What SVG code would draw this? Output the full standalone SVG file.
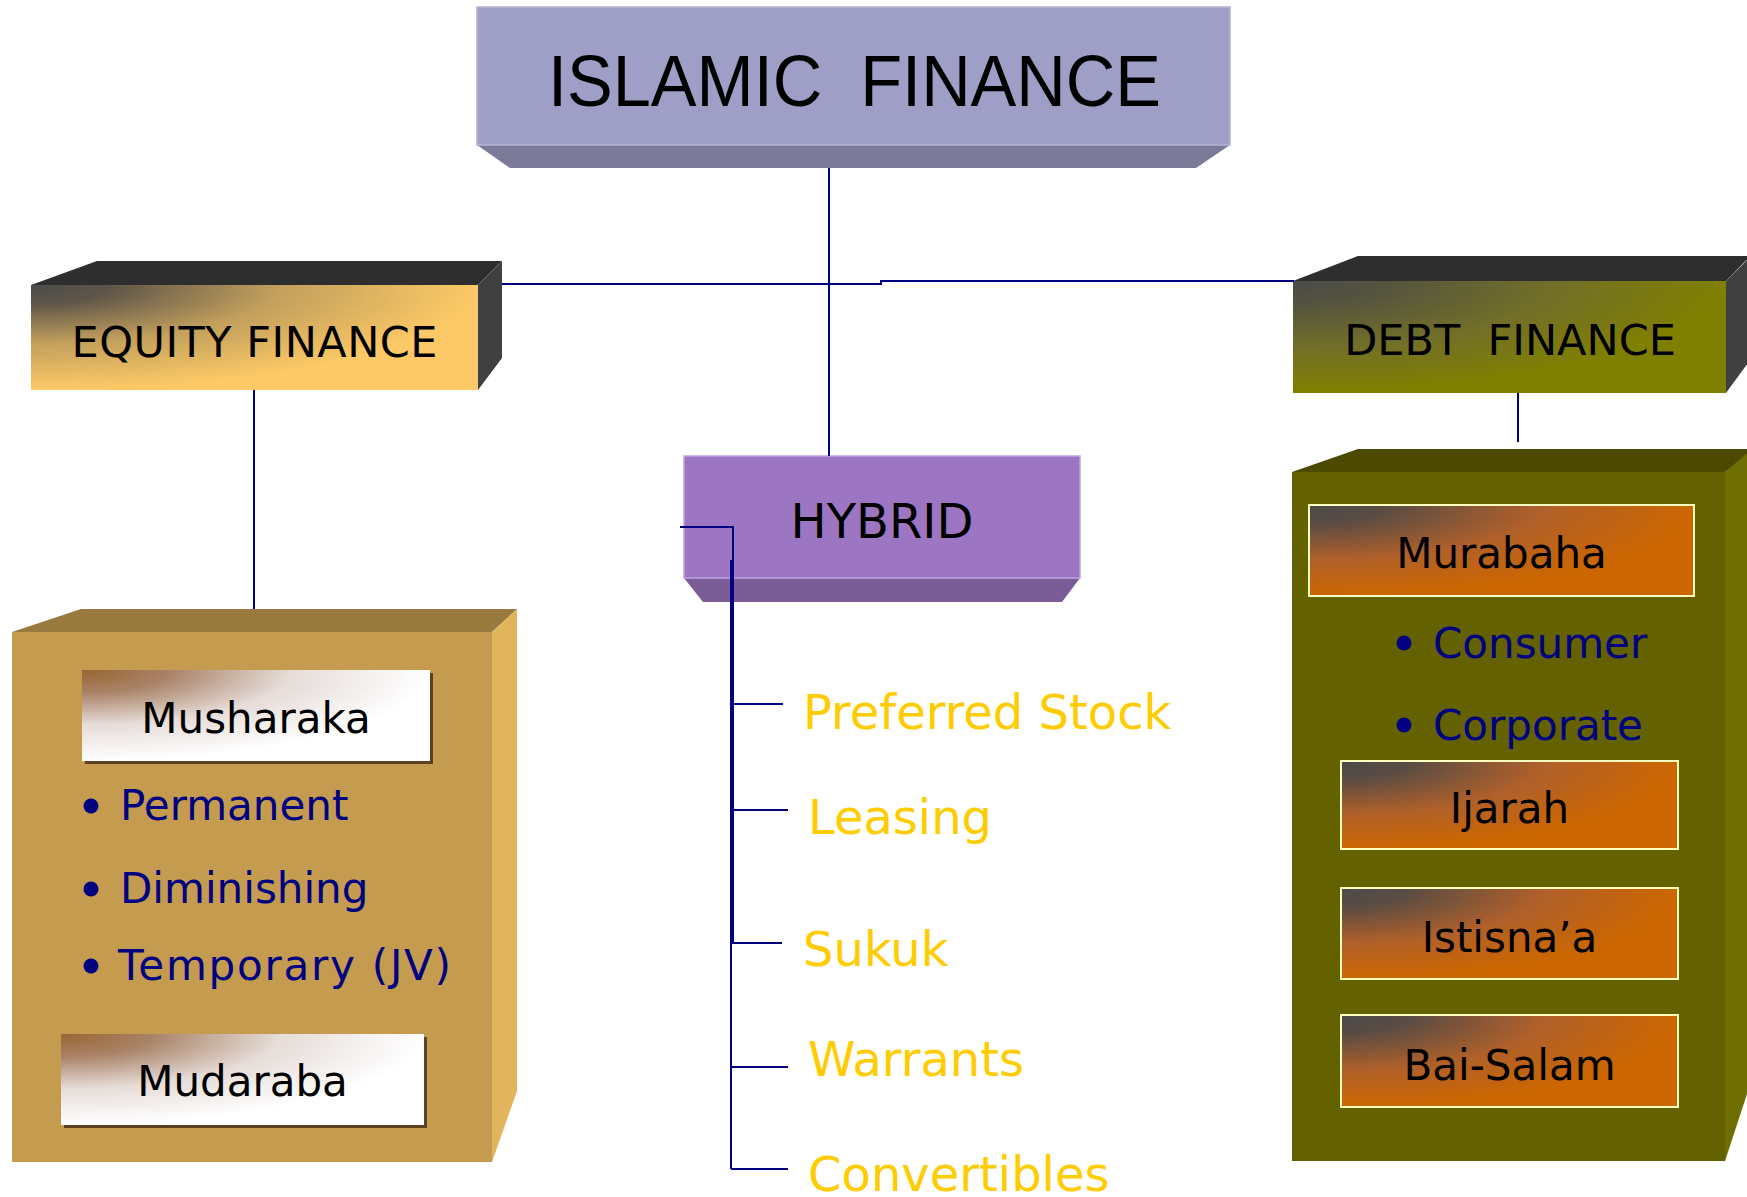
<svg xmlns="http://www.w3.org/2000/svg" width="1747" height="1197" viewBox="0 0 1747 1197">
  <defs>
    <!-- corner-shaded fills: dark in the top-left corner, fading to the base colour -->
    <radialGradient id="fillEquity" cx="0" cy="0" fx="0" fy="0" r="1">
      <stop offset="0" stop-color="#4b4b4b"/>
      <stop offset="0.18" stop-color="#5f5649"/>
      <stop offset="0.55" stop-color="#c29f5c"/>
      <stop offset="1" stop-color="#fcc966"/>
    </radialGradient>
    <radialGradient id="fillDebt" cx="0" cy="0" fx="0" fy="0" r="1">
      <stop offset="0" stop-color="#4b4b4b"/>
      <stop offset="0.2" stop-color="#54533f"/>
      <stop offset="0.6" stop-color="#726f28"/>
      <stop offset="1" stop-color="#808000"/>
    </radialGradient>
    <radialGradient id="fillOrange" cx="0" cy="0" fx="0" fy="0" r="1">
      <stop offset="0" stop-color="#4b4b4b"/>
      <stop offset="0.2" stop-color="#5a4c44"/>
      <stop offset="0.6" stop-color="#b0602a"/>
      <stop offset="1" stop-color="#cc6600"/>
    </radialGradient>
    <radialGradient id="fillWhite" cx="0" cy="0" fx="0" fy="0" r="1">
      <stop offset="0" stop-color="#9a6633"/>
      <stop offset="0.25" stop-color="#a98266"/>
      <stop offset="0.6" stop-color="#e6dcd8"/>
      <stop offset="1" stop-color="#ffffff"/>
    </radialGradient>
  </defs>
  <style>
    .v { font-family: "DejaVu Sans", Verdana, sans-serif; }
    .dark { fill: #000000; font-size: 42px; text-anchor: middle; }
    .head { fill: #000000; font-size: 43px; text-anchor: middle; }
    .bul { fill: #000080; font-size: 42px; }
    .dot { fill: #000080; }
    .yel { fill: #ffcc00; font-size: 48px; }
    .wbox { fill: url(#fillWhite); }
    .wshadow { fill: #5c4020; }
    .obox { fill: url(#fillOrange); stroke: #ffffc0; stroke-width: 2; }
    .wire { fill: none; stroke: #000080; stroke-width: 2; }
  </style>

  <rect width="1747" height="1197" fill="#ffffff"/>

  <!-- top node -->
  <g id="islamic-finance">
    <polygon points="477,145 1230,145 1196,168 510,168" fill="#7b7b99"/>
    <rect x="477" y="7" width="753" height="138" fill="#9e9ec6" stroke="#b2b2d6" stroke-width="1.5"/>
    <text x="548" y="106" font-family="'Liberation Sans', Arial, sans-serif" font-size="72" textLength="613" lengthAdjust="spacingAndGlyphs" fill="#000000" xml:space="preserve">ISLAMIC  FINANCE</text>
  </g>

  <!-- equity header block -->
  <g id="equity-finance">
    <polygon points="31,285 97,261 502,261 478,285" fill="#2e2e2e"/>
    <polygon points="478,285 502,261 502,358 478,390" fill="#404040"/>
    <rect x="31" y="285" width="447" height="105" fill="url(#fillEquity)"/>
    <text class="v head" x="254.5" y="357" textLength="366" lengthAdjust="spacing">EQUITY FINANCE</text>
  </g>

  <!-- debt header block -->
  <g id="debt-finance">
    <polygon points="1293,281 1358,256 1750,256 1726,281" fill="#2e2e2e"/>
    <polygon points="1726,281 1750,257 1750,360 1726,393" fill="#404040"/>
    <rect x="1293" y="281" width="433" height="112" fill="url(#fillDebt)"/>
    <text class="v head" x="1510" y="355" xml:space="preserve">DEBT  FINANCE</text>
  </g>

  <!-- hybrid node -->
  <g id="hybrid">
    <polygon points="684,578 1080,578 1062,602 703,602" fill="#7a5c97"/>
    <rect x="684" y="456" width="396" height="122" fill="#9d76c3" stroke="#c0a2e0" stroke-width="1.5"/>
    <text class="v" x="882" y="538" font-size="48" text-anchor="middle" fill="#000000">HYBRID</text>
  </g>

  <!-- equity contents block -->
  <g id="equity-contents">
    <polygon points="12,632 81,609 517,609 492,632" fill="#987a3e"/>
    <polygon points="492,632 517,609 517,1091 492,1162" fill="#e1b55b"/>
    <rect x="12" y="632" width="480" height="530" fill="#c49b4f"/>
  </g>

  <g id="musharaka">
    <rect class="wshadow" x="85" y="673" width="348" height="91"/>
    <rect class="wbox" x="82" y="670" width="348" height="91"/>
    <text class="v dark" x="256" y="733">Musharaka</text>
  </g>

  <g id="musharaka-types">
    <circle class="dot" cx="91" cy="806" r="7.5"/>
    <text class="v bul" x="120" y="820">Permanent</text>
    <circle class="dot" cx="91" cy="889" r="7.5"/>
    <text class="v bul" x="120" y="903">Diminishing</text>
    <circle class="dot" cx="91" cy="966" r="7.5"/>
    <text class="v bul" x="118" y="980" textLength="333" lengthAdjust="spacing">Temporary (JV)</text>
  </g>

  <g id="mudaraba">
    <rect class="wshadow" x="64" y="1037" width="363" height="91"/>
    <rect class="wbox" x="61" y="1034" width="363" height="91"/>
    <text class="v dark" x="242.5" y="1096">Mudaraba</text>
  </g>

  <!-- debt contents block -->
  <g id="debt-contents">
    <polygon points="1292,472 1358,449 1760,449 1725,472" fill="#4b4a00"/>
    <polygon points="1725,472 1750,451 1750,1085 1725,1161" fill="#6f6e00"/>
    <rect x="1292" y="472" width="433" height="689" fill="#636100"/>
  </g>

  <g id="murabaha">
    <rect class="obox" x="1309" y="505" width="385" height="91"/>
    <text class="v dark" x="1501.5" y="568">Murabaha</text>
  </g>

  <g id="murabaha-types">
    <circle class="dot" cx="1404" cy="643" r="7.5"/>
    <text class="v bul" x="1433" y="658">Consumer</text>
    <circle class="dot" cx="1404" cy="725" r="7.5"/>
    <text class="v bul" x="1433" y="740">Corporate</text>
  </g>

  <g id="ijarah">
    <rect class="obox" x="1341" y="761" width="337" height="88"/>
    <text class="v dark" x="1509.5" y="823">Ijarah</text>
  </g>

  <g id="istisnaa">
    <rect class="obox" x="1341" y="888" width="337" height="91"/>
    <text class="v dark" x="1509.5" y="952">Istisna’a</text>
  </g>

  <g id="bai-salam">
    <rect class="obox" x="1341" y="1015" width="337" height="92"/>
    <text class="v dark" x="1509.5" y="1080">Bai-Salam</text>
  </g>

  <!-- hybrid instruments -->
  <g id="hybrid-items">
    <text class="v yel" x="803" y="729">Preferred Stock</text>
    <text class="v yel" x="808" y="834">Leasing</text>
    <text class="v yel" x="803" y="966">Sukuk</text>
    <text class="v yel" x="808" y="1076">Warrants</text>
    <text class="v yel" x="808" y="1191">Convertibles</text>
  </g>

  <!-- connectors -->
  <g id="connectors">
    <path class="wire" d="M829,168 V456"/>
    <path class="wire" d="M502,284 H881 V281 H1294"/>
    <path class="wire" d="M254,390 V609"/>
    <path class="wire" d="M1518,393 V442"/>
    <path class="wire" d="M680,527 H733 V943 H782" stroke-width="2.5"/>
    <path class="wire" d="M731,560 V1169"/>
    <path class="wire" d="M731,704 H783"/>
    <path class="wire" d="M731,810 H788"/>
    <path class="wire" d="M731,1067 H788"/>
    <path class="wire" d="M731,1169 H788"/>
  </g>
</svg>
